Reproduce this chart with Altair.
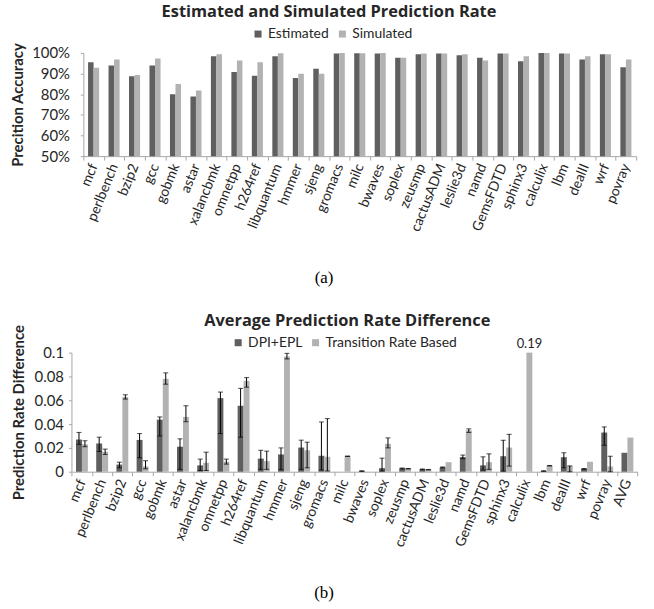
import altair as alt
import pandas as pd

# SPEC CPU2006 benchmarks
bench = ["mcf", "perlbench", "bzip2", "gcc", "gobmk", "astar", "xalancbmk",
         "omnetpp", "h264ref", "libquantum", "hmmer", "sjeng", "gromacs",
         "milc", "bwaves", "soplex", "zeusmp", "cactusADM", "leslie3d", "namd",
         "GemsFDTD", "sphinx3", "calculix", "lbm", "dealII", "wrf", "povray"]

# (a) prediction accuracy
estimated = [0.955, 0.939, 0.887, 0.939, 0.800, 0.789, 0.984, 0.907, 0.890,
             0.984, 0.879, 0.923, 0.997, 0.999, 0.997, 0.976, 0.994, 0.997,
             0.989, 0.976, 0.997, 0.960, 1.000, 0.997, 0.968, 0.994, 0.931]
simulated = [0.928, 0.968, 0.893, 0.973, 0.850, 0.818, 0.994, 0.963, 0.955,
             0.998, 0.899, 0.899, 1.000, 0.999, 1.000, 0.976, 0.997, 0.997,
             0.994, 0.963, 0.997, 0.984, 1.000, 0.997, 0.984, 0.994, 0.968]

# (b) average prediction rate difference, with min/max ranges
bench_b = bench + ["AVG"]
dpi = [0.0270, 0.0237, 0.0060, 0.0267, 0.0437, 0.0210, 0.0053, 0.0618, 0.0554,
       0.0110, 0.0145, 0.0203, 0.0134, 0.0000, 0.0005, 0.0030, 0.0028, 0.0020,
       0.0036, 0.0123, 0.0053, 0.0130, 0.0000, 0.0005, 0.0122, 0.0024, 0.0329,
       0.0159]
dpi_lo = [0.0230, 0.0170, 0.0033, 0.0117, 0.0300, 0.0020, 0.0010, 0.0320, 0.0290,
          0.0020, 0.0017, 0.0020, 0.0014, None, 0.0003, 0.0006, 0.0024, 0.0017,
          0.0032, 0.0109, 0.0014, 0.0005, None, 0.0003, 0.0033, 0.0020, 0.0222,
          None]
dpi_hi = [0.0330, 0.0290, 0.0080, 0.0320, 0.0460, 0.0276, 0.0106, 0.0669, 0.0700,
          0.0180, 0.0200, 0.0265, 0.0418, None, 0.0008, 0.0114, 0.0031, 0.0023,
          0.0040, 0.0140, 0.0125, 0.0264, None, 0.0008, 0.0159, 0.0027, 0.0376,
          None]
trb = [0.0230, 0.0167, 0.0627, 0.0045, 0.0780, 0.0460, 0.0075, 0.0084, 0.0763,
       0.0089, 0.0967, 0.0180, 0.0125, 0.0130, 0.0000, 0.0234, 0.0025, 0.0017,
       0.0080, 0.0348, 0.0080, 0.0203, 0.1900, 0.0050, 0.0047, 0.0084, 0.0044,
       0.0287]
trb_lo = [0.0210, 0.0145, 0.0610, 0.0025, 0.0735, 0.0420, 0.0010, 0.0064, 0.0710,
          0.0020, 0.0947, 0.0033, 0.0006, 0.0128, None, 0.0200, 0.0023, 0.0015,
          None, 0.0330, 0.0020, 0.0047, None, 0.0048, 0.0000, None, 0.0000,
          None]
trb_hi = [0.0260, 0.0190, 0.0646, 0.0092, 0.0830, 0.0554, 0.0164, 0.0106, 0.0790,
          0.0173, 0.0994, 0.0248, 0.0446, 0.0132, None, 0.0284, 0.0027, 0.0019,
          None, 0.0360, 0.0150, 0.0314, None, 0.0052, 0.0049, None, 0.0130,
          None]

DARK = "#5f5f5f"
LIGHT = "#b2b2b2"
FONT = "Lato"
TFONT = "Open Sans"
TXT = "#262626"
AXC = "#a6a6a6"

series_a = ["Estimated", "Simulated"]
df_a = pd.DataFrame(
    [{"bench": b, "series": series_a[0], "value": e} for b, e in zip(bench, estimated)]
    + [{"bench": b, "series": series_a[1], "value": s} for b, s in zip(bench, simulated)]
)

series_b = ["DPI+EPL", "Transition Rate Based"]
rows = []
for i, b in enumerate(bench_b):
    rows.append({"bench": b, "series": series_b[0], "value": dpi[i], "lo": dpi_lo[i], "hi": dpi_hi[i]})
    rows.append({"bench": b, "series": series_b[1], "value": trb[i], "lo": trb_lo[i], "hi": trb_hi[i]})
df_b = pd.DataFrame(rows)


def x_axis(caption, cap_y):
    return alt.Axis(
        title=caption, labelAngle=-68, labelAlign="right", labelBaseline="middle",
        labelFont=FONT, labelFontSize=14, labelColor=TXT, labelPadding=4,
        ticks=True, tickBand="extent", tickSize=4, tickColor=AXC,
        domainColor=AXC, labelOverlap=False,
        titleFont="Liberation Serif", titleFontSize=17, titleFontWeight="normal",
        titleColor="#000000", titleX=242, titleY=cap_y, titleAlign="center",
        titleBaseline="middle",
    )


def y_axis(title, values, fmt, offset, label_pad, title_pad):
    return alt.Axis(
        title=title, values=values, format=fmt, grid=False, offset=offset,
        tickSize=3, tickColor=AXC, domainColor=AXC,
        labelFont=FONT, labelFontSize=15, labelColor=TXT, labelPadding=label_pad,
        titleFont=FONT, titleFontSize=15, titleFontWeight="bold",
        titleColor=TXT, titlePadding=title_pad,
    )


def legend(x, y):
    return alt.Legend(
        title=None, orient="none", legendX=x, legendY=y, direction="horizontal",
        symbolType="square", symbolSize=50, symbolStrokeWidth=0,
        labelFont=FONT, labelFontSize=14, labelColor=TXT, columnPadding=6,
        labelOffset=3,
    )


# ---- (a) Estimated vs simulated accuracy ----
top = alt.Chart(df_a, title=alt.TitleParams(
    "Estimated and Simulated Prediction Rate", font=TFONT, fontSize=16.5,
    fontWeight="bold", color=TXT, anchor="middle", frame="group", dx=-31, offset=7)
).mark_bar(clip=True).encode(
    x=alt.X("bench:N", sort=bench,
            scale=alt.Scale(paddingInner=0, paddingOuter=0),
            axis=x_axis("(a)", 122)),
    xOffset=alt.XOffset("series:N", sort=series_a,
                        scale=alt.Scale(paddingOuter=0.85, paddingInner=0)),
    y=alt.Y("value:Q", scale=alt.Scale(domain=[0.5, 1.0], nice=False, zero=False),
            axis=y_axis("Precition Accuracy", [0.5, 0.6, 0.7, 0.8, 0.9, 1.0],
                        ".0%", 0, 11, 6)),
    color=alt.Color("series:N", sort=series_a,
                    scale=alt.Scale(domain=series_a, range=[DARK, LIGHT]),
                    legend=legend(169, -26)),
).properties(width=557, height=104)

# ---- (b) Average prediction rate difference ----
xb = alt.X("bench:N", sort=bench_b,
           scale=alt.Scale(range=[-11.6, 558.4], paddingInner=0, paddingOuter=0),
           axis=x_axis("(b)", 122))
xo = alt.XOffset("series:N", sort=series_b,
                 scale=alt.Scale(paddingOuter=0.7, paddingInner=0))
yb_scale = alt.Scale(domain=[0, 0.1], nice=False, clamp=True)
yb_axis = y_axis("Prediction Rate Difference", [0, 0.02, 0.04, 0.06, 0.08, 0.1],
                 "~g", 12, 5, 8)

bars_b = alt.Chart(df_b).mark_bar().encode(
    x=xb, xOffset=xo,
    y=alt.Y("value:Q", scale=yb_scale, axis=yb_axis),
    color=alt.Color("series:N", sort=series_b,
                    scale=alt.Scale(domain=series_b, range=[DARK, LIGHT]),
                    legend=legend(149, -17)),
)

errs = alt.Chart(df_b).transform_filter("isValid(datum.lo)")
err_rule = errs.mark_rule(color="#000000", strokeWidth=1).encode(
    x=xb, xOffset=xo,
    y=alt.Y("lo:Q", scale=yb_scale, axis=yb_axis), y2="hi:Q",
)
err_lo = errs.mark_tick(color="#000000", thickness=1, size=5).encode(
    x=xb, xOffset=xo, y=alt.Y("lo:Q", scale=yb_scale, axis=yb_axis),
)
err_hi = errs.mark_tick(color="#000000", thickness=1, size=5).encode(
    x=xb, xOffset=xo, y=alt.Y("hi:Q", scale=yb_scale, axis=yb_axis),
)
overflow = alt.Chart(df_b).transform_filter("datum.value > 0.1").mark_text(
    dy=-9, font=FONT, fontSize=13, color=TXT
).encode(
    x=xb, xOffset=xo,
    y=alt.Y("value:Q", scale=yb_scale, axis=yb_axis),
    text=alt.Text("value:Q", format=".2f"),
)

bottom = alt.layer(bars_b, err_rule, err_lo, err_hi, overflow).properties(
    width=558, height=120,
    title=alt.TitleParams("Average Prediction Rate Difference", font=TFONT,
                          fontSize=16.5, fontWeight="bold", color=TXT,
                          anchor="middle", frame="group", dx=-13, offset=-5),
)

chart = alt.vconcat(top, bottom, spacing=28).properties(
    padding={"top": 1, "left": 10, "right": 5, "bottom": 5}
).configure_view(stroke=None).resolve_scale(color="independent", x="independent",
                                            y="independent", xOffset="independent")

chart.save("out.html", embed_options={"renderer": "svg", "actions": False})
